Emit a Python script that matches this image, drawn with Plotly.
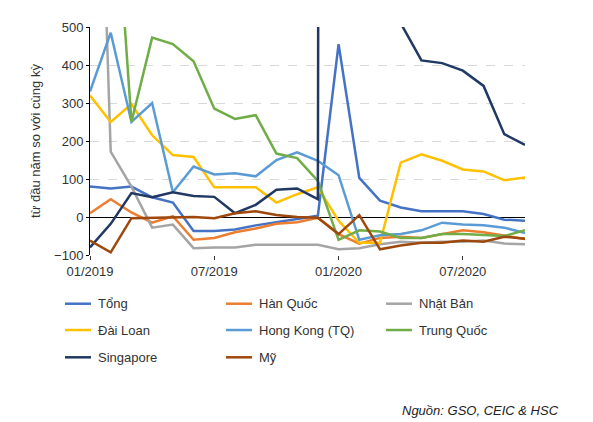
import plotly.graph_objects as go

months = list(range(22))
tick_vals = [0, 6, 12, 18]
tick_text = ["01/2019", "07/2019", "01/2020", "07/2020"]

tong = [80, 75, 80, 52, 38, -37, -37, -33, -22, -14, -5, 3, 455, 103, 43, 25, 15, 15, 15, 8, -7, -10]
han_quoc = [10, 47, 12, -15, 2, -60, -55, -40, -30, -18, -14, -2, -45, -70, -55, -52, -55, -45, -35, -40, -50, -58]
nhat_ban = [1850, 172, 80, -28, -20, -82, -80, -80, -73, -73, -73, -73, -85, -82, -72, -65, -68, -65, -65, -62, -70, -72]
dai_loan = [320, 250, 297, 215, 163, 158, 78, 78, 78, 38, 60, 78, -10, -68, -68, 143, 165, 148, 125, 120, 97, 104]
hong_kong = [330, 485, 250, 300, 65, 133, 112, 115, 107, 150, 170, 148, 110, -60, -48, -45, -35, -15, -20, -22, -28, -42]
trung_quoc = [1200, 1037, 250, 472, 455, 410, 285, 258, 268, 167, 155, 95, -60, -35, -38, -55, -55, -45, -45, -48, -50, -35]
singapore = [-80, -18, 63, 52, 65, 55, 53, 10, 32, 72, 75, 47, 30000, 5000, 1500, 510, 412, 405, 385, 345, 218, 190]
my = [-62, -93, -3, -2, 0, 0, -3, 10, 15, 5, 0, -2, -45, 5, -85, -75, -68, -68, -62, -65, -52, -57]

series = [
    ("Tổng", tong, "#4472C4"),
    ("Hàn Quốc", han_quoc, "#ED7D31"),
    ("Nhật Bản", nhat_ban, "#A5A5A5"),
    ("Đài Loan", dai_loan, "#FFC000"),
    ("Hong Kong (TQ)", hong_kong, "#5B9BD5"),
    ("Trung Quốc", trung_quoc, "#70AD47"),
    ("Singapore", singapore, "#203864"),
    ("Mỹ", my, "#9E480E"),
]

W, H = 593, 422
L, R, T, B = 82, 76, 13, 175

fig = go.Figure()
shapes, annotations = [], []
col_x = [57, 218, 378]
row_y = [297, 324, 352]
for i, (name, vals, col) in enumerate(series):
    fig.add_trace(go.Scatter(x=months, y=vals, name=name, mode="lines",
                             line=dict(color=col, width=2.5), showlegend=False))
    cx, ry = col_x[i % 3], row_y[i // 3]
    # convert pixels to paper coords
    px0 = (cx - L) / (W - L - R)
    px1 = (cx + 26 - L) / (W - L - R)
    py = (H - B - ry) / (H - T - B)
    shapes.append(dict(type="line", xref="paper", yref="paper", x0=px0, x1=px1,
                       y0=py, y1=py, line=dict(color=col, width=2.5)))
    annotations.append(dict(text=name, xref="paper", yref="paper",
                            x=(cx + 31 - L) / (W - L - R), y=py, xanchor="left",
                            yanchor="middle", showarrow=False,
                            font=dict(size=13, color="#333333")))

annotations.append(dict(text="<i>Nguồn: GSO, CEIC & HSC</i>", xref="paper", yref="paper",
                        x=(553 - L) / (W - L - R), y=(H - B - 407) / (H - T - B),
                        xanchor="right", yanchor="middle",
                        showarrow=False, font=dict(size=13, color="#222")))

fig.update_layout(
    width=W, height=H,
    margin=dict(l=L, r=R, t=T, b=B),
    paper_bgcolor="white", plot_bgcolor="white",
    font=dict(family="Liberation Sans, Arial", size=13, color="#333333"),
    showlegend=False,
    xaxis=dict(range=[0, 21], tickvals=tick_vals, ticktext=tick_text, showgrid=False,
               zeroline=False, ticks="outside", ticklen=4, tickcolor="#333",
               showline=False, tickfont=dict(size=13)),
    yaxis=dict(range=[-100, 500], dtick=100, showgrid=True, gridcolor="#D9D9D9",
               griddash="dash", zeroline=True, zerolinecolor="black", zerolinewidth=1,
               showline=True, linecolor="black", linewidth=1,
               ticks="outside", ticklen=3, tickcolor="black",
               title=dict(text="từ đầu năm so với cùng kỳ", font=dict(size=13), standoff=10),
               tickfont=dict(size=13)),
    shapes=shapes,
    annotations=annotations,
)
fig.write_html("out.html")
